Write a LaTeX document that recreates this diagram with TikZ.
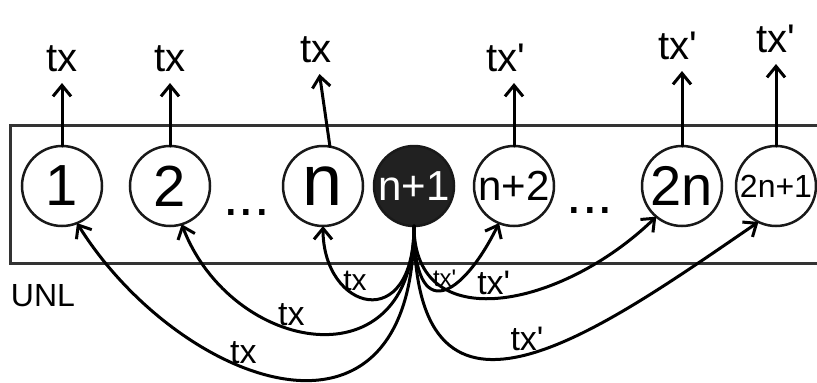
\documentclass[tikz,border=0pt]{standalone}
\usepackage{fontspec}
\setmainfont{Liberation Sans}
\usetikzlibrary{arrows.meta,positioning,calc}

\newcommand{\txp}{tx\textquotesingle}
\newcommand{\fs}[1]{\fontsize{#1}{#1}\selectfont}

\tikzset{
  peer/.style={circle, draw=black!90, line width=2.5pt, minimum size=80pt, inner sep=0pt, outer sep=0pt},
  leader/.style={peer, fill=black!87, text=white},
  send/.style={line width=3pt, line cap=round, -{Straight Barb[length=11pt,width=18pt]}},
  uplbl/.style={font=\fs{40}, inner sep=1pt, outer sep=10pt},
  edgelbl/.style={font=\fs{34}, inner sep=2pt},
}

\begin{document}
\begin{tikzpicture}[x=1pt, y=-1pt]
  \useasboundingbox (0,0) rectangle (817,383);

  % UNL box, open on the right
  \draw[line width=3pt, black!80] (817,125) -| (10,263) -- (817,263);
  \node[font=\fs{32}] (unl) at (43,296) {UNL};

  % peers
  \node[peer, font=\fs{58}] (c1) at (62,186) {1};
  \node[peer, font=\fs{58}, right=28pt of c1] (c2) {2};
  \node[peer, font=\fs{72}, right=73pt of c2] (c3) {n};
  \node[leader, font=\fs{42}, right=11pt of c3] (c4) {n+1};
  \node[peer, font=\fs{42}, right=20pt of c4] (c5) {n+2};
  \node[peer, font=\fs{56}, right=88pt of c5] (c6) {2n};
  \node[peer, font=\fs{32}, right=14pt of c6] (c7) {2n+1};

  \node[font=\fs{56}] (d1) at ($(c2)!0.5!(c3)+(0,27)$) {...};
  \node[font=\fs{56}] (d2) at ($(c5)!0.5!(c6)+(-8,25)$) {...};

  % outgoing transactions
  \node[uplbl, above=63pt of c1] (t1) {tx};
  \node[uplbl, above=63pt of c2] (t2) {tx};
  \node[uplbl, above=72pt of c3, xshift=-7pt] (t3) {tx};
  \node[uplbl, above=63pt of c5, xshift=-8pt] (t5) {\txp};
  \node[uplbl, above=75pt of c6, xshift=-4pt] (t6) {\txp};
  \node[uplbl, above=82pt of c7] (t7) {\txp};

  \draw[send] (c1) -- (t1);
  \draw[send] (c2) -- (t2);
  \draw[send] (c3.80) -- (t3);
  \draw[send] (c5.north) -- (c5.north |- t5.south);
  \draw[send] (c6.north) -- (c6.north |- t6.south);
  \draw[send] (c7.north) -- (c7.north |- t7.south);

  % node n+1 relays
  \draw[send] (c4.south) .. controls +(0,110) and +(0,85) .. (c3.south)
    node[edgelbl, font=\fs{30}, pos=0.6, above] (e3) {tx};
  \draw[send] (c4.south) .. controls +(0,160) and +(50,130) .. (c2.-73)
    node[edgelbl, pos=0.58, above] (e2) {tx};
  \draw[send] (c4.south) .. controls +(0,250) and +(100,160) .. (c1.-68)
    node[edgelbl, pos=0.59, above] (e1) {tx};
  \draw[send] (c4.south) .. controls +(0,100) and +(-37,75) .. (c5.-112)
    node[edgelbl, font=\fs{24}, pos=0.52, above, inner sep=1pt] (e5) {\txp};
  \draw[send] (c4.south) .. controls +(0,112) and +(-95,92) .. (c6.-130)
    node[edgelbl, pos=0.48, above] (e6) {\txp};
  \draw[send] (c4.south) .. controls +(0,240) and +(-158,108) .. (c7.-116)
    node[edgelbl, pos=0.5, above] (e7) {\txp};

\end{tikzpicture}
\end{document}
